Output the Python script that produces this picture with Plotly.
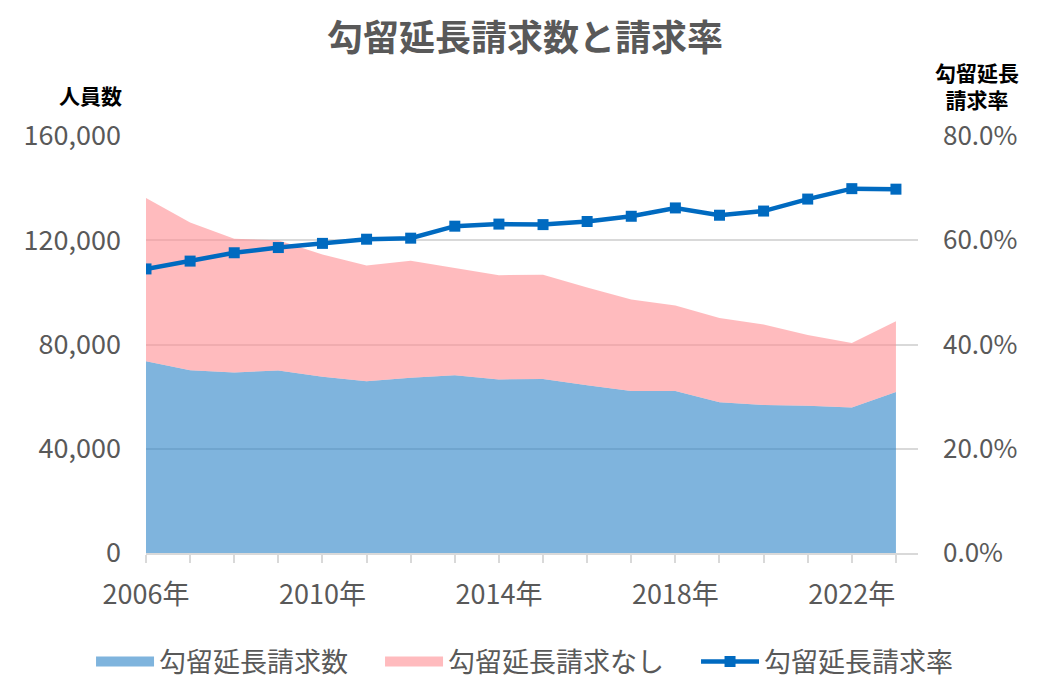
import plotly.graph_objects as go

# 年（2006年〜2023年）
years = list(range(2006, 2024))
tick_labels = ['2006年', '', '', '', '2010年', '', '', '', '2014年', '', '', '',
               '2018年', '', '', '', '2022年', '']

# 勾留延長請求数（人）
requested = [73600, 70100, 69300, 70000, 67600, 65900, 67200, 68200, 66600,
             66800, 64400, 62200, 62200, 57800, 56800, 56500, 55800, 61800]
# 勾留延長請求なし（人）
not_requested = [62600, 56700, 51300, 50000, 46900, 44400, 44900, 41200, 40000,
                 40000, 37500, 35100, 32800, 32400, 30900, 27100, 24800, 27100]
# 勾留延長請求率
rate = [0.545, 0.560, 0.576, 0.586, 0.594, 0.602, 0.604, 0.627, 0.631,
        0.630, 0.636, 0.646, 0.662, 0.648, 0.656, 0.679, 0.699, 0.698]

FONT = 'Noto Sans CJK JP'
GRAY = '#595959'
GRID = '#d9d9d9'
BLUE_FILL = 'rgba(42,130,198,0.6)'
PINK_FILL = 'rgba(255,142,147,0.6)'
LINE_BLUE = '#006AC0'
SP = '\u3000'  # extra gap after a legend entry

fig = go.Figure()

# stacked areas (legend entries are drawn by the dummy traces below)
fig.add_trace(go.Scatter(x=years, y=requested, name='勾留延長請求数',
                         mode='lines', stackgroup='one', showlegend=False,
                         line=dict(width=0), fillcolor=BLUE_FILL))
fig.add_trace(go.Scatter(x=years, y=not_requested, name='勾留延長請求なし',
                         mode='lines', stackgroup='one', showlegend=False,
                         line=dict(width=0), fillcolor=PINK_FILL))

# rate line on the right axis
fig.add_trace(go.Scatter(x=years, y=rate, name='勾留延長請求率',
                         mode='lines+markers', yaxis='y2', legendrank=3,
                         line=dict(color=LINE_BLUE, width=4.5),
                         marker=dict(symbol='square', size=11, color=LINE_BLUE)))

# legend swatches for the areas
fig.add_trace(go.Scatter(x=[None], y=[None], name='勾留延長請求数' + SP, mode='lines',
                         legendrank=1, line=dict(color='#7FB4DD', width=13)))
fig.add_trace(go.Scatter(x=[None], y=[None], name='勾留延長請求なし' + SP, mode='lines',
                         legendrank=2, line=dict(color='#FFBBBE', width=13)))

# the page body adds an 8px offset; the figure runs a little past the window
# bottom so the legend does not push the bottom margin
fig.update_layout(
    width=1032, height=691,
    margin=dict(l=138, r=122, t=128, b=146),
    paper_bgcolor='white', plot_bgcolor='white',
    font=dict(family=FONT, color=GRAY, size=24),
    title=dict(text='<b>勾留延長請求数と請求率</b>', x=0.501, xanchor='center',
               y=0.9566, yanchor='middle',
               font=dict(family=FONT, size=36, color=GRAY)),
    xaxis=dict(range=[2006, 2023.5], tickmode='array', tickvals=years,
               ticktext=tick_labels, ticks='outside', ticklen=8,
               tickcolor=GRID, tickwidth=1.5, showline=True, linecolor=GRID,
               linewidth=1.5, showgrid=False, zeroline=False,
               ticklabelstandoff=9, automargin=False,
               tickfont=dict(family=FONT, size=27, color=GRAY)),
    yaxis=dict(range=[0, 160000], tickvals=[0, 40000, 80000, 120000, 160000],
               tickformat=',d', showgrid=True, gridcolor=GRID, gridwidth=1.5,
               zeroline=False, showline=False, ticks='', ticklabelstandoff=24,
               automargin=False,
               tickfont=dict(family=FONT, size=27, color=GRAY)),
    yaxis2=dict(range=[0, 0.8], tickvals=[0, 0.2, 0.4, 0.6, 0.8],
                tickformat='.1%', overlaying='y', side='right',
                showgrid=False, zeroline=False, showline=False, ticks='',
                ticklabelstandoff=24, automargin=False,
                tickfont=dict(family=FONT, size=26, color=GRAY)),
    legend=dict(orientation='h', x=-0.0712, xanchor='left', y=-0.261,
                yanchor='middle', itemwidth=58, traceorder='normal',
                font=dict(family=FONT, size=27, color=GRAY)),
    showlegend=True,
)

# axis titles
fig.add_annotation(text='<b>人員数</b>', xref='paper', yref='paper',
                   x=-0.0285, y=1.098, xanchor='right', yanchor='middle',
                   showarrow=False, font=dict(family=FONT, size=21, color='black'))
fig.add_annotation(text='<b>勾留延長<br>請求率</b>', xref='paper', yref='paper',
                   x=1.076, y=1.122, xanchor='center', yanchor='middle',
                   showarrow=False, align='center',
                   font=dict(family=FONT, size=21, color='black'))

fig.write_html('out.html')
